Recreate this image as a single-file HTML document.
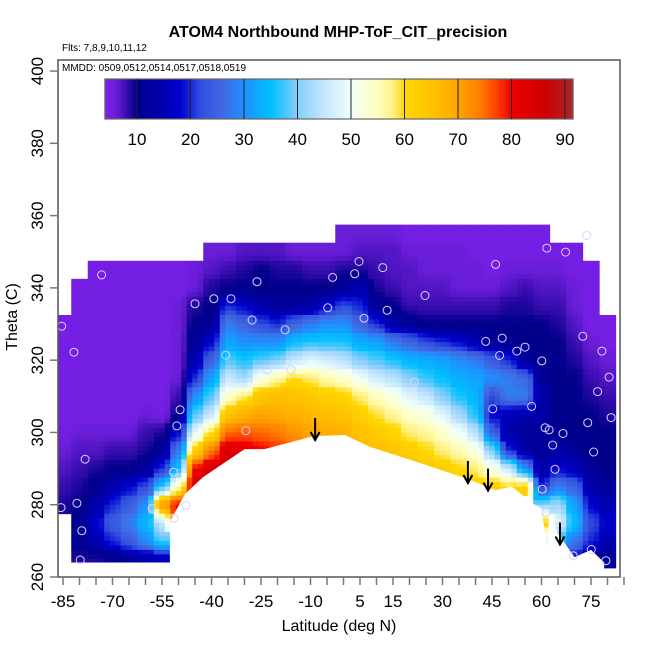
<!DOCTYPE html>
<html><head><meta charset="utf-8"><style>
body{margin:0;background:#fff;}
svg{display:block;font-family:"Liberation Sans",sans-serif;}
</style></head><body>
<svg id="chart" width="650" height="650" viewBox="0 0 650 650">
<text x="338" y="37" text-anchor="middle" font-size="16" font-weight="bold">ATOM4 Northbound MHP-ToF_CIT_precision</text>
<text x="62" y="51" font-size="10">Flts: 7,8,9,10,11,12</text>
<defs><clipPath id="pc"><rect x="58" y="60" width="562" height="517"/></clipPath></defs>
<g id="cells" clip-path="url(#pc)"></g>
<g id="surf" clip-path="url(#pc)"></g>
<g id="pts" clip-path="url(#pc)"></g>
<g id="arrows"></g>
<rect x="58" y="60" width="562" height="517" fill="none" stroke="#555" stroke-width="1.5"/>
<text x="62" y="71" font-size="10">MMDD: 0509,0512,0514,0517,0518,0519</text>
<g id="cbar"></g>
<g id="xaxis"></g>
<g id="yaxis"></g>
<text x="339" y="631" text-anchor="middle" font-size="16">Latitude (deg N)</text>
<text x="0" y="0" transform="translate(17,317) rotate(-90)" text-anchor="middle" font-size="16">Theta (C)</text>
</svg>
<script>
const lats=[-85,-80,-75,-70,-65,-60,-55,-50,-45,-40,-35,-30,-25,-20,-15,-10,-5,0,5,10,15,20,25,30,35,40,45,50,55,60,65,70,75,80];
const tops=[330,340,345,345,345,345,345,345,345,350,350,350,350,350,350,350,350,355,355,355,355,355,355,355,355,355,355,355,355,355,350,350,345,330];
const vals=[
[5,5,5,5,5,5,5,6,7,8,9],
[5,5,5,5,5,5,5,5,6,7,8,9,10,11,11,9],
[5,5,5,5,5,5,5,5,5,6,7,9,11,14,18,15,9],
[5,5,5,5,5,5,5,5,5,6,8,10,14,20,24,20,10],
[5,5,5,5,5,5,5,5,5,6,8,10,18,24,28,24,12],
[5,5,5,5,5,5,5,5,6,8,9,12,22,30,34,30,14],
[5,5,5,5,5,5,5,5,5,9,12,20,36,72,45,38,15],
[5,5,6,6,6,6,6,8,10,18,28,35,55,80,75],
[6,6,9,10,12,15,20,30,38,48,62,80,84],
[6,7,9,10,12,18,25,32,38,45,60,74,84],
[6,8,10,20,28,32,38,45,54,65,75,84,86],
[7,9,10,18,25,30,36,42,58,68,76,82],
[7,10,10,14,22,30,38,52,64,70,75,80],
[7,9,10,12,20,30,40,56,66,69,74,78],
[6,9,10,12,25,35,45,60,65,68,72,76],
[6,8,10,14,28,36,48,58,64,67,70],
[6,8,10,18,30,36,46,56,62,66,69],
[6,6,9,12,22,30,36,44,54,61,65,68],
[6,7,9,15,20,25,33,40,50,58,62,65,67],
[6,7,8,9,12,20,32,38,46,55,59,63,66],
[6,7,7,8,10,14,28,36,44,52,57,61,64],
[5,6,7,7,8,12,25,34,40,48,54,58,62,66],
[5,6,6,7,8,10,22,33,37,45,52,57,60,64],
[5,6,6,7,8,10,20,32,35,40,48,54,58,62],
[5,6,6,6,8,10,18,30,33,36,42,50,56,60,64],
[5,5,6,6,8,10,15,28,32,34,36,44,52,58,62],
[5,5,5,6,8,10,12,24,30,22,18,25,40,52,62],
[5,5,6,7,9,10,11,20,28,28,16,14,20,45,60],
[5,5,6,8,9,10,10,12,26,28,15,12,14,30,62],
[5,5,6,7,8,10,10,10,12,14,14,12,12,14,20,40,65,50],
[5,6,7,8,9,10,10,10,10,10,11,14,18,28,42,48,36],
[5,5,6,6,7,8,9,10,10,10,10,12,16,25,32,35,28,18],
[5,5,5,5,6,7,8,9,10,10,10,12,14,18,22,20,12],
[5,5,6,7,8,9,10,10,10,12,15,18,15,11]];
const surfLat=[-92,-92,-52.6,-52.6,-48,-42.6,-30,-24,-9,0.5,8,21.7,38,46,51,58,60,61.8,62.3,65,70,75,79,79];
const surfTh=[255,264,264,275.3,283,287.6,295.4,295.4,299,299.3,296,292,287,284,285,280,279,268,278,272,265.5,267.5,264,255];
const ptLat=[-73.3,-85.4,-81.7,-45,-39.3,-34.1,-26.2,-3.3,-4.8,-27.7,-17.7,-35.7,-23,-15.9,-49.5,-50.5,-29.6,-78.3,-51.5,-80.8,-85.6,-58,-47.7,-51.4,-79.3,-79.8,4.7,11.9,3.4,24.7,13.2,6.2,46.1,61.6,67.3,73.7,72.5,78.3,80.5,77,81.1,74,66.5,63.4,75.8,61.1,62.3,57,45.2,21.5,43.1,48.1,52.5,55,60.1,47.3,64.1,60.2,61.3,75.1,69.6,79.5];
const ptTh=[343.6,329.4,322.2,335.6,337,337,341.7,342.9,334.5,331.1,328.4,321.4,317.3,317.4,306.3,301.8,300.5,292.6,289,280.4,279.2,279,279.8,276.3,272.8,264.7,347.3,345.6,343.9,337.9,333.8,331.6,346.5,351,349.9,354.5,326.6,322.5,315.3,311.3,304.1,302.7,299.7,296.5,294.6,301.3,300.7,307.2,306.5,314,325.2,326.1,322.5,323.6,319.8,321.3,289.8,284.3,277.8,267.6,265.9,264.5];
const arrowLat=[-8.6,37.7,43.8,65.6];
const arrowTh=[297.9,286,283.9,269];
const xTicks=[-85,-80,-75,-70,-65,-60,-55,-50,-45,-40,-35,-30,-25,-20,-15,-10,-5,0,5,10,15,20,25,30,35,40,45,50,55,60,65,70,75,80,85];
const xLabels=[-85,-70,-55,-40,-25,-10,5,15,30,45,60,75];
const yLabels=[260,280,300,320,340,360,380,400];
const cbLabels=[10,20,30,40,50,60,70,80,90];

const NS='http://www.w3.org/2000/svg';
const X=l=>63+(l+85)*3.3;
const Y=t=>577-(t-260)*3.614;
const CBX=v=>137+(v-10)*5.35;
const stops=[[4,'#8020f0'],[6,'#6a1ed8'],[8,'#3a0db0'],[10,'#00008b'],[15,'#0000b0'],[18,'#0000cd'],[22,'#3050e0'],[26,'#4169e1'],[30,'#1e90ff'],[35,'#00bfff'],[40,'#87cefa'],[45,'#c6e6ff'],[50,'#f0fff8'],[55,'#ffffc0'],[58,'#fff080'],[60,'#ffd700'],[66,'#ffbe00'],[70,'#ffa500'],[74,'#ff7f00'],[78,'#ff3000'],[80,'#ee0000'],[86,'#cd0000'],[92,'#a52a2a']];
function hx(h){return [1,3,5].map(i=>parseInt(h.substr(i,2),16));}
function col(v){
  if(v<=stops[0][0])return stops[0][1];
  for(let i=1;i<stops.length;i++){if(v<=stops[i][0]){const a=stops[i-1],b=stops[i];const f=(v-a[0])/(b[0]-a[0]);const ca=hx(a[1]),cb=hx(b[1]);return 'rgb('+ca.map((c,k)=>Math.round(c+(cb[k]-c)*f)).join(',')+')';}}
  return stops[stops.length-1][1];
}
function mk(tag,attrs,parent){const e=document.createElementNS(NS,tag);for(const k in attrs)e.setAttribute(k,attrs[k]);parent.appendChild(e);return e;}
function getV(i,t){if(i<0||i>=lats.length)return null;const j=Math.round((tops[i]-t)/5);if(j<0||j>=vals[i].length)return null;return vals[i][j];}
const cells=document.getElementById('cells');
lats.forEach((lat,i)=>{
  vals[i].forEach((v,j)=>{
    const th=tops[i]-5*j;
    const SX=3,SY=4;
    for(let a=0;a<SX;a++)for(let b=0;b<SY;b++){
      const fx=(a+0.5)/SX-0.5, fy=(b+0.5)/SY-0.5;
      let vv=v;
      const nx=getV(fx<0?i-1:i+1,th); const ny=getV(i,fy<0?th+5:th-5);
      if(nx!==null)vv+=(nx-v)*Math.abs(fx)*0.6;
      if(ny!==null)vv+=(ny-v)*Math.abs(fy)*0.8;
      const x0=X(lat-2.5+5*a/SX),x1=X(lat-2.5+5*(a+1)/SX);
      const y0=Y(th+2.5-5*b/SY),y1=Y(th+2.5-5*(b+1)/SY);
      const r=mk('rect',{x:x0.toFixed(2),y:y0.toFixed(2),width:(x1-x0+0.4).toFixed(2),height:(y1-y0+0.4).toFixed(2),fill:col(vv)},cells);
      
      
    }
  });
});
const sp=mk('polygon',{points:surfLat.map((l,k)=>X(l).toFixed(1)+','+Y(surfTh[k]).toFixed(1)).join(' '),fill:'#fff'},document.getElementById('surf'));


const pts=document.getElementById('pts');
ptLat.forEach((l,k)=>{
  const c=mk('circle',{cx:X(l).toFixed(1),cy:Y(ptTh[k]).toFixed(1),r:4,fill:'none',stroke:'#ddd0ff','stroke-width':1},pts);
  
  
});
const ar=document.getElementById('arrows');
arrowLat.forEach((l,k)=>{
  const x=X(l),y=Y(arrowTh[k]);
  const g=mk('path',{d:`M${x},${y-22} L${x},${y} M${x-4.5},${y-8} L${x},${y} L${x+4.5},${y-8}`,stroke:'#000','stroke-width':2,fill:'none'},ar);
  
  
});
const cb=document.getElementById('cbar');
for(let v=4;v<91.5;v+=0.5){const r=mk('rect',{x:CBX(v).toFixed(2),y:79,width:3.2,height:40,fill:col(v+0.25)},cb);

}
mk('rect',{x:CBX(4),y:79,width:CBX(91.5)-CBX(4),height:40,fill:'none',stroke:'#666','stroke-width':1.2},cb);
cbLabels.forEach(v=>{
  mk('line',{x1:CBX(v),x2:CBX(v),y1:79,y2:119,stroke:'#222','stroke-width':1},cb);
  const t=mk('text',{x:CBX(v),y:145,'text-anchor':'middle','font-size':17},cb);t.textContent=v;
  
  
});
const xa=document.getElementById('xaxis');
xTicks.forEach(v=>mk('line',{x1:X(v),x2:X(v),y1:577,y2:585,stroke:'#777','stroke-width':1.5},xa));
xLabels.forEach(v=>{const t=mk('text',{x:X(v),y:607,'text-anchor':'middle','font-size':17},xa);t.textContent=v;

});
const ya=document.getElementById('yaxis');
yLabels.forEach(v=>{
  mk('line',{x1:50,x2:58,y1:Y(v),y2:Y(v),stroke:'#777','stroke-width':1.5},ya);
  const t=mk('text',{x:0,y:0,transform:`translate(43,${Y(v)}) rotate(-90)`,'text-anchor':'middle','font-size':17},ya);t.textContent=v;
  
  
});
</script>
</body></html>
